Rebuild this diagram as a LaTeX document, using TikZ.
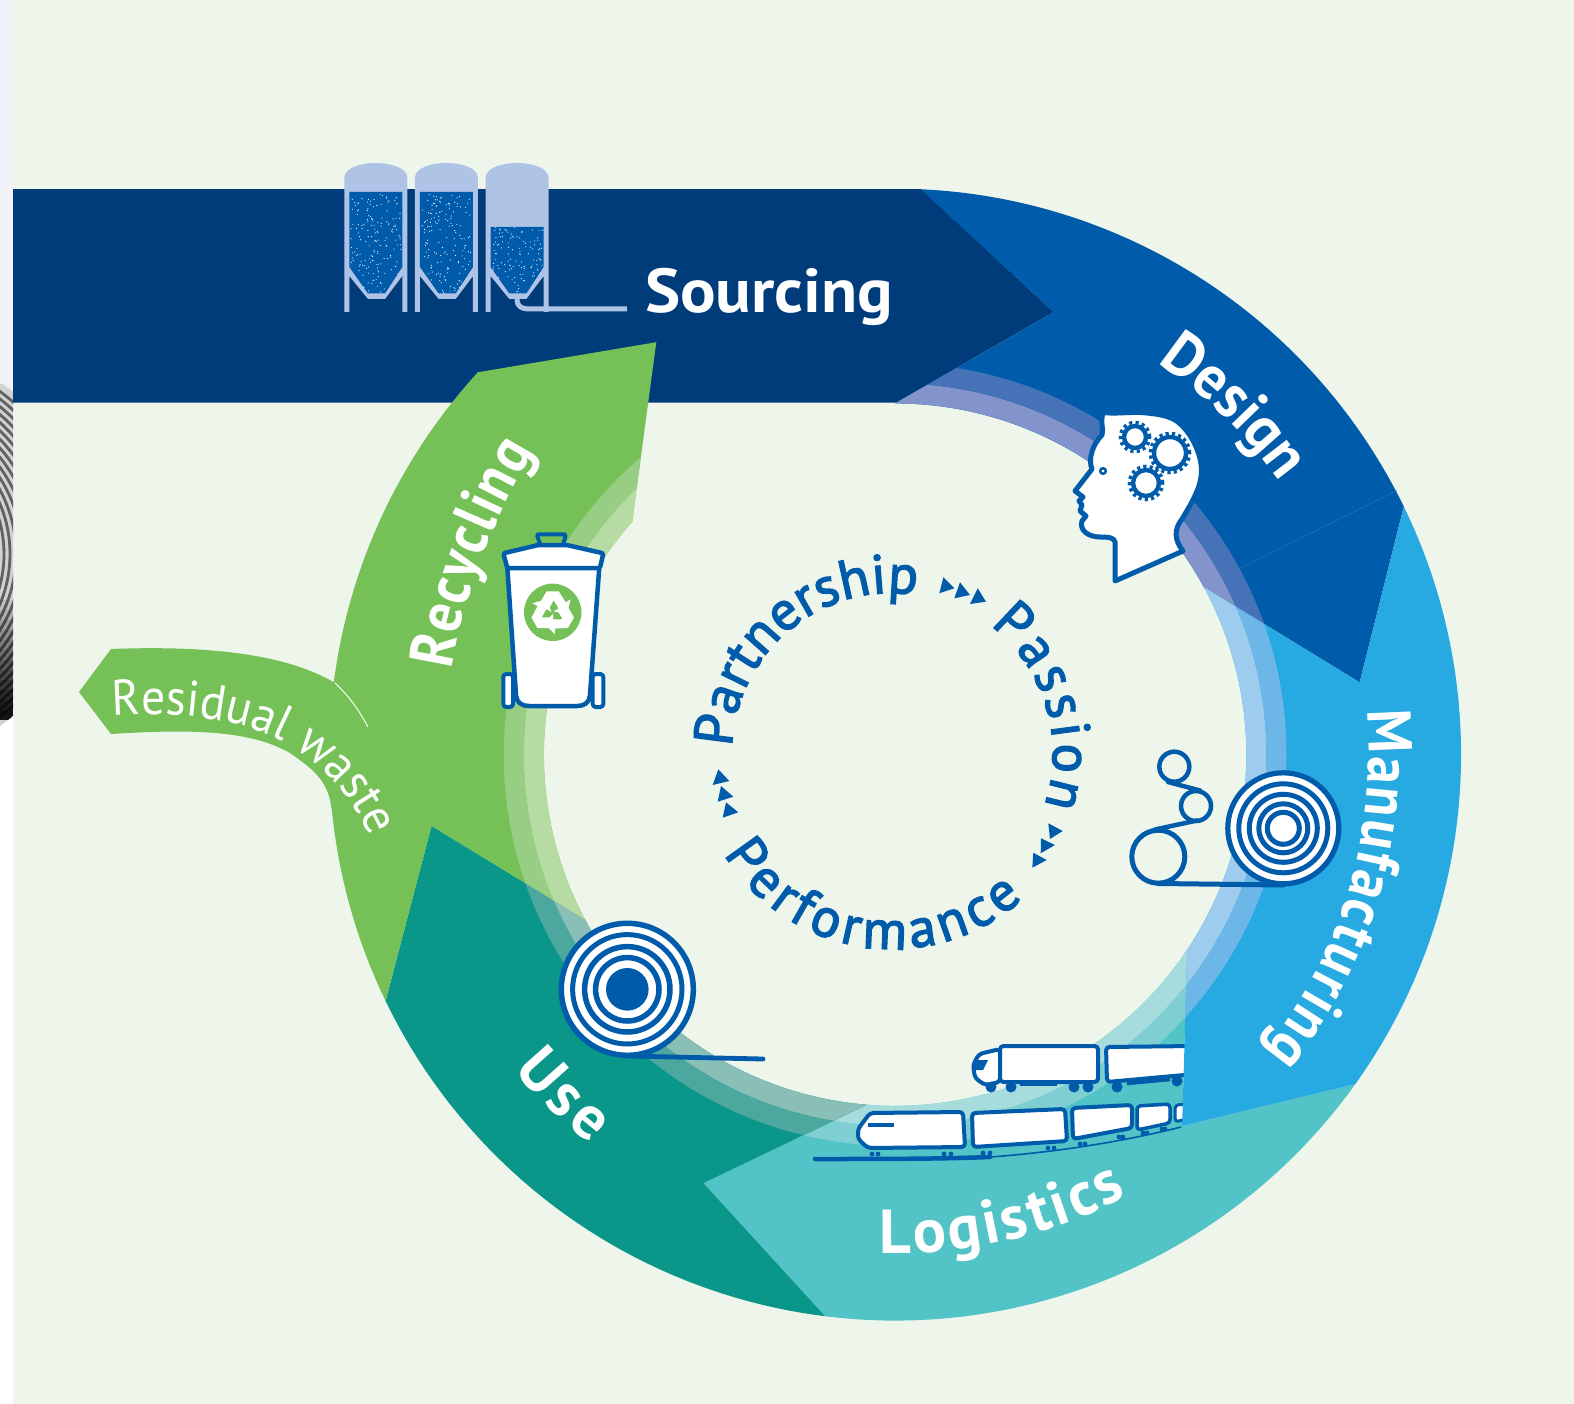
\documentclass[tikz,border=0pt]{standalone}
\usepackage{fontspec}
\usetikzlibrary{decorations.text}
\newfontfamily\din{PT Sans}
\newfontfamily\dinn[FakeStretch=0.88]{PT Sans}
\newfontfamily\dinr[FakeStretch=0.95]{PT Sans}
\newfontfamily\dinw[FakeStretch=1.07]{PT Sans}
\newfontfamily\dinm[FakeBold=2.5]{PT Sans}
\definecolor{bgc}{HTML}{EEF6EB}
\definecolor{navy}{HTML}{003B7A}
\definecolor{bl}{HTML}{005BAB}
\definecolor{manu}{HTML}{27A9E1}
\definecolor{logi}{HTML}{52C3C7}
\definecolor{usec}{HTML}{0A978A}
\definecolor{recy}{HTML}{75C158}
\definecolor{silo}{HTML}{AEC3E6}
\definecolor{strip}{HTML}{F1F2F8}
\definecolor{dI}{HTML}{8393CB}\definecolor{dO}{HTML}{4673B8}
\definecolor{mI}{HTML}{9DCCEE}\definecolor{mO}{HTML}{6DB6E8}
\definecolor{lI}{HTML}{A7DCDD}\definecolor{lO}{HTML}{7FCFD2}
\definecolor{uI}{HTML}{8ABFB7}\definecolor{uO}{HTML}{4CA79E}
\definecolor{rI}{HTML}{B6DCA3}\definecolor{rO}{HTML}{97CE83}
\newcommand{\ringarc}[3]{plot[domain=#2:#3,samples=90,variable=\t] ({892+#1*cos(\t)},{752+#1*sin(\t)})}
\newcommand{\ringto}[3]{-- plot[domain=#2:#3,samples=90,variable=\t] ({892+#1*cos(\t)},{752+#1*sin(\t)})}
\newcommand{\txtarc}[7]{\path[decorate,decoration={text along path,text align=fit to path,text={|#7|#1}}] plot[domain=#3:#4,samples=120,variable=\t] ({#5+#2*cos(\t)},{#6+#2*sin(\t)});}
\newcommand{\ringpiece}[4]{%
  \fill[#2] #1;
  \begin{scope}
    \clip #1;
    \draw[#3,line width=20.1pt] (892,752) circle[radius=360];
    \draw[#4,line width=20.1pt] (892,752) circle[radius=380];
  \end{scope}}
\newcommand{\siloshape}[2]{%
  \begin{scope}[xshift=#1pt]
    \fill[silo] (344.3,178) .. controls (344.3,168) and (360,163) .. (375.8,163) .. controls (391,163) and (407.3,168) .. (407.3,178) -- (407.3,312) -- (402.3,312) -- (402.3,276) -- (385,299) -- (368,299) -- (349.3,276) -- (349.3,312) -- (344.3,312) -- cycle;
    \begin{scope}
      \clip (349.3,#2) -- (402.3,#2) -- (402.3,267) -- (385,293.5) -- (368,293.5) -- (349.3,267) -- cycle;
      \fill[bl] (340,160) rectangle (410,300);
      \foreach \i in {1,...,170} {
        \pgfmathsetmacro{\dx}{351+50*rnd}
        \pgfmathsetmacro{\dy}{194+100*rnd}
        \fill[white!85!silo] (\dx,\dy) circle[radius=0.6pt];
      }
    \end{scope}
  \end{scope}}
\newcommand{\gearshape}[3]{%
  \draw[bl,line width=3.4pt,dash pattern=on 3.2pt off 3.2pt] (#1,#2) circle[radius=#3pt+3.6pt];
  \draw[bl,fill=white,line width=4.4pt] (#1,#2) circle[radius=#3pt];}
\tikzset{
  vehicle/.style={draw=bl,fill=white,line width=4pt,line join=round,rounded corners=3.5pt},
  wheelc/.style={fill=bl},
  lines/.style={draw=bl,line width=4.5pt,line cap=round},
  title/.style={text=white,inner sep=0pt,anchor=base west,font=\dinw\bfseries\fontsize{62}{62}\selectfont}
}
\def\wfmt{\din\bfseries\fontsize{62}{62}\selectfont\color{white}}
\def\dfmt{\dinr\bfseries\fontsize{62}{62}\selectfont\color{white}}
\def\nfmt{\dinn\bfseries\fontsize{62}{62}\selectfont\color{white}}
\def\cfmt{\dinm\fontsize{55}{55}\selectfont\color{bl}}
\def\rfmt{\dinr\fontsize{50}{50}\selectfont\color{white}}
\begin{document}
\begin{tikzpicture}[x=1pt,y=-1pt]
\useasboundingbox (0,0) rectangle (1574,1404);
\fill[bgc] (13,0) rectangle (1574,1404);
\fill[strip] (0,0) rectangle (13,400);
\fill[white] (0,400) rectangle (13,1404);
% remnant of a photograph on the left edge
\begin{scope}
  \clip (0,385) rectangle (13,730);
  \fill[black!18] (-120,554) circle[radius=209.6pt];
  \foreach \r in {100,106,...,206} { \draw[black!62,line width=2.8pt] (-120,554) circle[radius=\r pt]; }
  \clip (-120,554) circle[radius=209.6pt];
  \foreach \y/\o in {600/.08,610/.16,620/.24,630/.32,640/.4,650/.48,660/.56,670/.64,680/.72,690/.8,700/.86,710/.9}{
    \fill[black,opacity=\o] (0,\y) rectangle (13,\y+10);
  }
\end{scope}
\begin{scope}[x=1.0035pt,y=-1.0035pt]
  % Sourcing
  \fill[navy] (13,188.4) -- (918,188.4) -- (1050,311) -- (893,401.3) -- (13,401.3) -- cycle;
  % Design
  \ringpiece{\ringarc{564}{-87.4}{-26} -- (1355,680) \ringto{350}{-28.5}{-90} -- (1050,311) -- cycle}{bl}{dI}{dO}
  \draw[bl!85!white,line width=.5pt] (1236,566) -- (1392,489);
  % Logistics
  \ringpiece{\ringarc{564}{35.6}{97.1} -- (701,1179) \ringto{350}{94.6}{34.2} -- (1183,950) -- (1178,1122) -- cycle}{logi}{lI}{lO}
\end{scope}
% truck
\begin{scope}
  \foreach \p/\q in {991/1087,1011/1087,1074/1087,1088/1087,1117/1087,1177/1081}{\fill[wheelc] (\p,\q) circle[radius=5.5pt];}
  \draw[bl,line width=3.5pt] (1020,1084.5) -- (1057,1084.5);
  \draw[bl,line width=3.5pt] (1127,1083.5) -- (1170,1079.5);
  \draw[vehicle] (1000,1049) -- (979,1054) -- (973,1065) -- (975,1078) -- (985,1085) -- (1000,1082) -- cycle;
  \fill[bl] (975,1060) -- (988,1060) -- (983,1070) -- (975,1070) -- cycle;
  \draw[vehicle] (1000,1046) rectangle (1098,1082);
  \draw[vehicle] (1106,1047) -- (1195,1046) -- (1195,1074) -- (1107,1082) -- cycle;
\end{scope}
% train
\begin{scope}
  \draw[bl,line width=4.5pt,line cap=round] (815,1159) .. controls (880,1159) and (940,1159) .. (990,1157);
  \draw[bl,line width=1.6pt] (990,1157) .. controls (1060,1152) and (1130,1140) .. (1181,1127);
  \foreach \p/\q in {872/1154,878/1154,944/1154,951/1154,983/1153,990/1153,1048/1148,1054/1148,1080/1144,1085/1144,1119/1137,1123/1137,1143/1133,1147/1133,1162/1129,1165/1129}{\fill[wheelc] (\p,\q) circle[radius=2.4pt];}
  \draw[vehicle] (870,1113) -- (963,1112) -- (965,1147) -- (868,1148) -- (858,1139) -- (858,1129) -- cycle;
  \draw[bl,line width=4pt] (868,1125) -- (894,1125);
  \draw[vehicle] (972,1113) -- (1065,1109) -- (1067,1141) -- (973,1147) -- cycle;
  \draw[vehicle] (1072,1108) -- (1132,1105) -- (1132,1128) -- (1073,1139) -- cycle;
  \draw[vehicle,line width=3.5pt] (1137,1106) -- (1170,1104) -- (1170,1123) -- (1137,1130) -- cycle;
  \draw[vehicle,line width=3pt] (1175,1105) -- (1190,1104) -- (1190,1118) -- (1175,1122) -- cycle;
\end{scope}
\begin{scope}[x=1.0035pt,y=-1.0035pt]
  % Manufacturing
  \ringpiece{\ringarc{564}{-26}{35.6} -- (1178,1122) -- (1183,950) \ringto{350}{34.2}{-28.5} -- (1355,680) -- cycle}{manu}{mI}{mO}
  % Use
  \ringpiece{\ringarc{564}{97.1}{154.2} -- (430,823) -- (583,916.3) \ringto{350}{152}{94.6} -- (701,1179) -- cycle}{usec}{uI}{uO}
  % Recycling
  \ringpiece{\ringarc{564}{154.2}{222.5} -- (654,341) -- (630,520) \ringto{350}{221.5}{152} -- (430,823) -- cycle}{recy}{rI}{rO}
\end{scope}
% Residual waste branch
\fill[recy] (79,692) -- (111,649) .. controls (190,646) and (280,650) .. (335,683) -- (368,727) -- (400,800) -- (342,860) -- (330,800) .. controls (325,778) and (310,767) .. (290,753) .. controls (250,730) and (190,729) .. (111,734) -- cycle;
\draw[white,line width=.9pt] (335,683) .. controls (350,697) and (360,712) .. (368,727);
% Silos
\pgfmathsetseed{31}
\siloshape{0}{192}
\siloshape{70.67}{192}
\siloshape{141.33}{227}
\draw[silo,line width=5pt] (517,296) -- (517,300) .. controls (517,306) and (522,309) .. (528,309) -- (627,309);
\node[title] (sourcing) at (645,313) {Sourcing};
% head
\draw[bl,fill=white,line width=5pt,line join=round] (1103,412.5) .. controls (1115,414) and (1128,412) .. (1140,412.5) .. controls (1155,413.5) and (1166,415) .. (1175,420) .. controls (1188,428) and (1201,450) .. (1201.5,470) .. controls (1201.5,484) and (1196,496) .. (1182,519) .. controls (1174,529) and (1174,540) .. (1183,551) -- (1115,581) -- (1115,542) .. controls (1114,538) and (1110,537) .. (1100,537) .. controls (1088,537) and (1079,530) .. (1082,521) -- (1086,516) -- (1080,511) -- (1082,505) -- (1079,501) -- (1083,497) -- (1075,491) -- (1092,469) .. controls (1088,460) and (1092,445) .. (1102,435) .. controls (1104,428) and (1100,424) .. (1103,412.5) -- cycle;
\draw[bl,line width=2.5pt] (1103,471) circle[radius=2.8pt];
\gearshape{1135}{437}{11}
\gearshape{1170}{453}{16}
\gearshape{1146}{483}{13}
% manufacturing rollers
\draw[lines] (1174.3,766.7) circle[radius=15pt];
\draw[lines] (1196,806) circle[radius=15pt];
\draw[lines,line width=5pt] (1158.3,856.7) circle[radius=26.5pt];
\draw[lines] (1168,782) -- (1200,790.5);
\draw[lines] (1155,829.5) -- (1197,820.5);
\draw[lines,line width=5pt] (1158,883.5) -- (1283,885);
\fill[white] (1283.3,828.3) circle[radius=57pt];
\foreach \r/\w in {55.5/5.2,44.5/5,34/5,24.5/5,16/5}{\draw[bl,line width=\w pt] (1283.3,828.3) circle[radius=\r pt];}
% use roll
\fill[white] (627.3,989.3) circle[radius=67pt];
\foreach \r/\w in {66/5.5,54.7/5,42.7/5.5,31.7/5.5}{\draw[bl,line width=\w pt] (627.3,989.3) circle[radius=\r pt];}
\fill[bl] (627.3,989.3) circle[radius=21.3pt];
\draw[lines,line width=4.8pt] (627,1056) -- (763,1059);
% bin
\draw[bl,line width=4pt,line join=round,rounded corners=1.5pt] (540,544) -- (536.7,534.3) -- (566,534.3) -- (563.3,544);
\draw[vehicle,line width=4pt,rounded corners=3pt] (503.3,674) rectangle (513,707);
\draw[vehicle,line width=4pt,rounded corners=3pt] (592.7,674) rectangle (603.3,707);
\draw[vehicle,line width=4.5pt,rounded corners=1pt] (507.3,567) -- (516,695) .. controls (517,703) and (522,706) .. (530,706) -- (576,706) .. controls (584,706) and (589,703) .. (590,695) -- (599.3,567) -- cycle;
\draw[vehicle,line width=4.5pt,rounded corners=1.5pt] (503.3,553.3) -- (538.3,545) -- (566.7,545) -- (603.3,553.3) -- (600,568) -- (507.3,568) -- cycle;
\fill[recy] (552.7,612.3) circle[radius=28.7pt];
\foreach \a in {0,120,240}{
  \begin{scope}[shift={(552.7,612.3)},rotate=\a]
    \fill[white] (-6,-21) -- (6,-21) -- (13,-10) -- (18,-13) -- (14,2) -- (1,-1) -- (6,-4) -- (1,-12) -- (-3,-5) -- (-12,-11) -- cycle;
  \end{scope}
}
% triangles
\foreach \a/\b/\c/\d/\e/\f in {943.3/577.3/954.3/588.3/939.3/593.3, 960/582.3/970/595/954.3/598.3, 977.7/588.3/986/601.7/970/604, 718.3/769.3/729.3/781/712.7/785, 721/786/733.3/796.7/717.7/801.7, 726/802.3/738.3/812.3/722.7/817.7, 1048.3/823.3/1062.7/831/1050/839, 1041/838.3/1055/845/1040.7/853.3, 1033.3/852.7/1046.7/860/1032.3/867.7}{
  \fill[bl] (\a,\b) -- (\c,\d) -- (\e,\f) -- cycle;
}
% centre words
\txtarc{Partnership}{160}{182.1}{279}{892}{753}{\cfmt}
\txtarc{Passion}{161}{-52.5}{19}{892}{753}{\cfmt}
\txtarc{Performance}{196}{149}{48}{892}{753}{\cfmt}
% ring words
\begin{scope}[x=1.0035pt,y=-1.0035pt]
  \txtarc{Design}{470}{-56.2}{-37}{892}{752}{\dfmt}
  \txtarc{Manufacturing}{472}{-5.3}{38.8}{892}{752}{\nfmt}
  \txtarc{Logistics}{497}{91.8}{62.3}{892}{752}{\wfmt}
  \txtarc{Use}{493}{140.4}{128}{892}{752}{\wfmt}
  \path[decorate,decoration={text along path,text align=fit to path,text={|\nfmt|Recycling}}] (450,667) .. controls (462,590) and (495,510) .. (532,450);
\end{scope}
\path[decorate,decoration={text along path,text align=fit to path,text={|\rfmt|Residual waste}}] (113,716) .. controls (210,710) and (316,722) .. (368,833);
\end{tikzpicture}
\end{document}
